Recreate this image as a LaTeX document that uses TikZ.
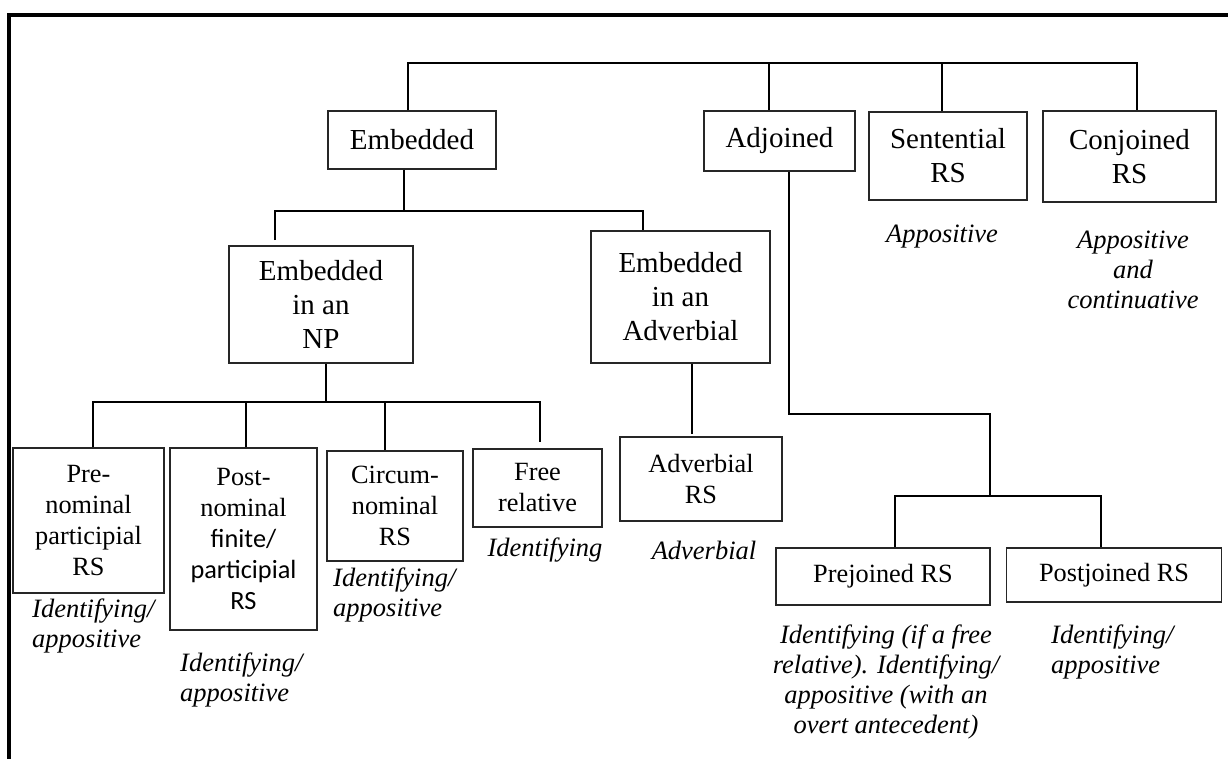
\documentclass[tikz,border=0pt]{standalone}
\usepackage{fontspec}
\setmainfont{Liberation Serif}
\newfontfamily\carlitofont{Carlito}
\begin{document}
\begin{tikzpicture}[x=1pt,y=-1pt,
 box/.style={draw=black!85,line width=1.1pt,inner sep=0pt,align=center,anchor=center},
 big/.style={font=\fontsize{29}{34}\selectfont},
 small/.style={font=\fontsize{26.3}{31}\selectfont},
 lab/.style={inner sep=0pt,font=\fontsize{26.5}{30}\selectfont\itshape},
 conn/.style={line width=1.8pt},
]
\useasboundingbox (0,0) rectangle (1228,758);
\draw[line width=4pt] (8.7,765) -- (8.7,15.3) -- (1235,15.3);

% boxes
\node[box,big,minimum width=168pt,minimum height=58pt] (emb) at (412,140) {Embedded};
\node[box,big,minimum width=151pt,minimum height=60pt] (adj) at (779.5,141) {Adjoined};
\node[box,big,minimum width=158pt,minimum height=88pt] (sent) at (948,156) {Sentential\\RS};
\node[box,big,minimum width=173pt,minimum height=91pt] (conj) at (1129.5,156.5) {Conjoined\\RS};
\node[box,big,minimum width=184pt,minimum height=117pt] (np) at (321,304.5) {Embedded\\in an\\NP};
\node[box,big,minimum width=179pt,minimum height=132pt] (ea) at (680.5,297) {Embedded\\in an\\Adverbial};
\node[box,small,minimum width=151pt,minimum height=145pt] (pre) at (88.5,520.5) {Pre-\\nominal\\participial\\RS};
\node[box,small,minimum width=147pt,minimum height=182pt] (post) at (243.5,539) {Post-\\nominal\\{\carlitofont finite/}\\{\carlitofont participial}\\{\carlitofont RS}};
\node[box,small,minimum width=136pt,minimum height=110pt] (circ) at (395,506) {Circum-\\nominal\\RS};
\node[box,small,minimum width=129pt,minimum height=78pt] (free) at (537.5,488) {Free\\relative};
\node[box,small,minimum width=162pt,minimum height=84pt] (advrs) at (701,479) {Adverbial\\RS};
\node[box,small,minimum width=214pt,minimum height=57pt] (prej) at (883,576.5) {Prejoined RS};
\node[box,small,minimum width=214.5pt,minimum height=54pt] (postj) at (1114,575) {Postjoined RS};

% labels
\node[lab] (lsent) at (942,237) {Appositive};
\node[lab,align=center] (lconj) at (1133,270) {Appositive\\and\\continuative};
\node[lab,align=left,anchor=west] (lpre) at (32,626) {Identifying/\\appositive};
\node[lab,align=left,anchor=west] (lpost) at (180,680) {Identifying/\\appositive};
\node[lab,align=left,anchor=west] (lcirc) at (333,595) {Identifying/\\appositive};
\node[lab] (lfree) at (545,550) {Identifying};
\node[lab] (ladv) at (704,550) {Adverbial};
\node[lab,align=center] (lprej) at (886,682) {Identifying (if a free\\relative). Identifying/\\appositive (with an\\overt antecedent)};
\node[lab,align=left,anchor=west] (lpostj) at (1051,652) {Identifying/\\appositive};

% connectors
\coordinate (t1) at (408,63);
\coordinate (t2) at (769,63);
\coordinate (t3) at (942,63);
\coordinate (t4) at (1137,63);
\draw[conn] (t1 |- emb.north) -- (t1) -- (t4) -- (t4 |- conj.north);
\draw[conn] (t2) -- (t2 |- adj.north);
\draw[conn] (t3) -- (t3 |- sent.north);

\coordinate (e1) at (403.6,211);
\coordinate (e1l) at (275,211);
\coordinate (e1le) at (275,240);
\coordinate (e1r) at (643,211);
\draw[conn] (e1 |- emb.south) -- (e1);
\draw[conn] (e1le) -- (e1l) -- (e1r) -- (e1r |- ea.north);

\coordinate (n1) at (325.7,402);
\coordinate (n1l) at (93,402);
\coordinate (n1r) at (540,402);
\coordinate (n1re) at (540,442);
\coordinate (n2) at (245.7,402);
\coordinate (n3) at (385,402);
\draw[conn] (n1 |- np.south) -- (n1);
\draw[conn] (n1l |- pre.north) -- (n1l) -- (n1r) -- (n1re);
\draw[conn] (n2) -- (n2 |- post.north);
\draw[conn] (n3) -- (n3 |- circ.north);

\coordinate (a1) at (692,434);
\draw[conn] (a1 |- ea.south) -- (a1);

\coordinate (d1) at (789,414);
\coordinate (d2) at (990,414);
\coordinate (d3) at (990,496);
\coordinate (d3l) at (895,496);
\coordinate (d3r) at (1101,496);
\draw[conn] (d1 |- adj.south) -- (d1) -- (d2) -- (d3);
\draw[conn] (d3l |- prej.north) -- (d3l) -- (d3r) -- (d3r |- postj.north);
\end{tikzpicture}
\end{document}
